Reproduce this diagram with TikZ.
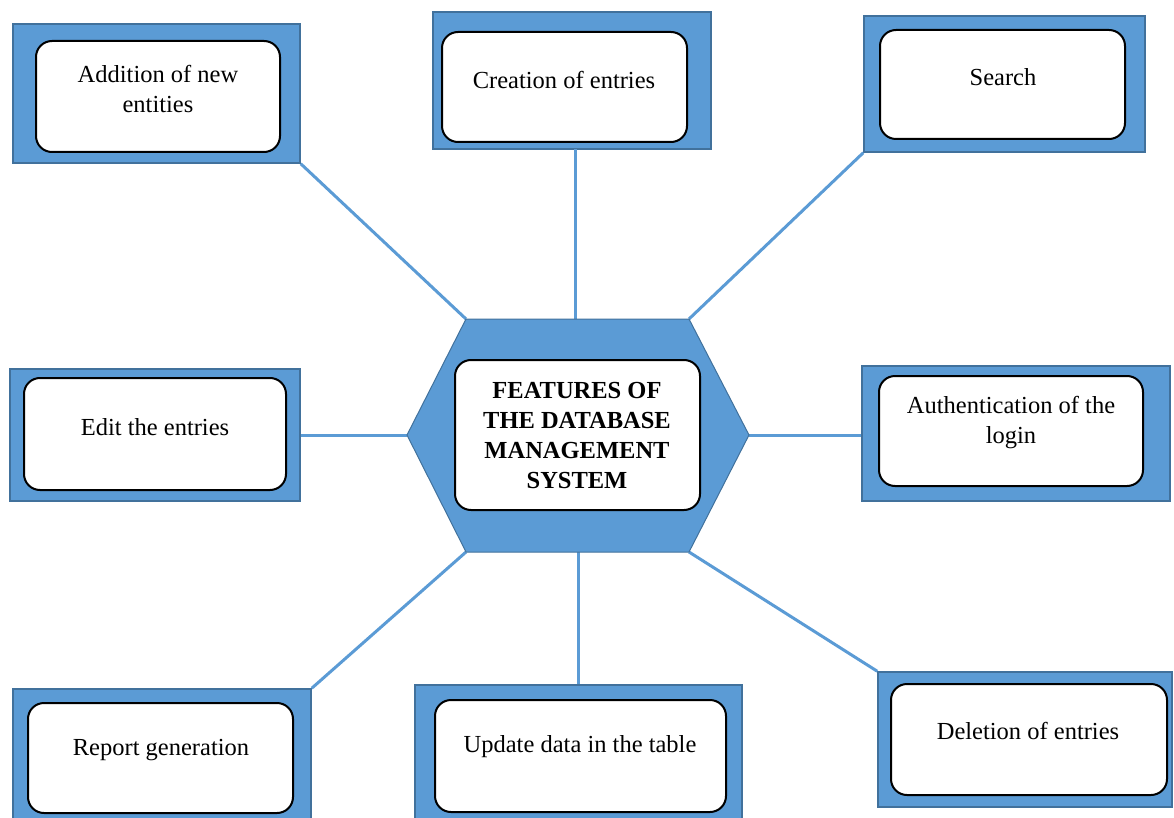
\documentclass[tikz,border=0pt]{standalone}
\usepackage{fontspec}
\setmainfont{Liberation Serif}
\definecolor{panelblue}{HTML}{5B9BD5}
\definecolor{paneledge}{HTML}{41719C}
\begin{document}
\begin{tikzpicture}[x=1pt,y=-1pt,
  outerbox/.style={draw=paneledge,line width=1.5pt,fill=panelblue,inner sep=0pt},
  innerbox/.style={draw=black,line width=2pt,fill=white,rounded corners=16pt,inner sep=0pt},
  caption/.style={align=center,font=\fontsize{24.5}{30}\selectfont,inner sep=0pt},
  spoke/.style={draw=panelblue,line width=3pt}]
\useasboundingbox (0,0) rectangle (1174,818);

% hexagon corners
\coordinate (hL)  at (407,435);
\coordinate (hTL) at (466,319);
\coordinate (hTR) at (689,319);
\coordinate (hR)  at (749,435);
\coordinate (hBR) at (689,552);
\coordinate (hBL) at (466,552);

% outer panels
\node[outerbox,minimum width=287pt,minimum height=139pt] (o1) at (156.5,93.5) {};
\node[outerbox,minimum width=278pt,minimum height=137pt] (o2) at (572,80.5) {};
\node[outerbox,minimum width=281pt,minimum height=136pt] (o3) at (1004.5,84) {};
\node[outerbox,minimum width=290pt,minimum height=132pt] (o4) at (155,435) {};
\node[outerbox,minimum width=308pt,minimum height=135pt] (o5) at (1016,433.5) {};
\node[outerbox,minimum width=298pt,minimum height=134pt] (o6) at (162,756) {};
\node[outerbox,minimum width=327pt,minimum height=138pt] (o7) at (578.5,754) {};
\node[outerbox,minimum width=294pt,minimum height=135pt] (o8) at (1025,739.5) {};

% spokes from the panels to the hexagon
\draw[spoke] (o1.south east) -- (hTL);
\draw[spoke] (575,149) coordinate (c2) -- (c2 |- hTL);
\draw[spoke] (o3.south west) -- (hTR);
\draw[spoke] (o4.east) -- (hL);
\draw[spoke] (hR) -- (o5.west |- hR);
\draw[spoke] (o6.north east) -- (hBL);
\draw[spoke] (578,552) coordinate (c7) -- (c7 |- o7.north);
\draw[spoke] (hBR) -- (o8.north west);

% central hexagon
\filldraw[fill=panelblue,draw=paneledge,line width=1pt]
  (hL) -- (hTL) -- (hTR) -- (hR) -- (hBR) -- (hBL) -- cycle;

% inner white boxes
\node[innerbox,minimum width=244pt,minimum height=111pt] (i1) at (158,96.5) {};
\node[innerbox,minimum width=245pt,minimum height=110pt] (i2) at (564.5,87) {};
\node[innerbox,minimum width=245pt,minimum height=109pt] (i3) at (1002.5,84.5) {};
\node[innerbox,minimum width=262pt,minimum height=112pt] (i4) at (155,434) {};
\node[innerbox,minimum width=264pt,minimum height=110pt] (i5) at (1011,431) {};
\node[innerbox,minimum width=265pt,minimum height=110pt] (i6) at (160.5,758) {};
\node[innerbox,minimum width=291pt,minimum height=112pt] (i7) at (580.5,756) {};
\node[innerbox,minimum width=276pt,minimum height=111pt] (i8) at (1029,739.5) {};
\node[innerbox,minimum width=245pt,minimum height=150pt] (ic) at (577.5,435) {};

% captions
\node[caption] (t1) at (158,89) {Addition of new\\entities};
\node[caption] (t2) at (564,80) {Creation of entries};
\node[caption] (t3) at (1003,77) {Search};
\node[caption] (t4) at (155,427) {Edit the entries};
\node[caption] (t5) at (1011,423) {Authentication of the\\login};
\node[caption] (t6) at (161,750) {Report generation};
\node[caption] (t7) at (580,747) {Update data in the table};
\node[caption] (t8) at (1028,731) {Deletion of entries};
\node[caption,font=\fontsize{24.5}{30}\selectfont\bfseries] (tc) at (577,436)
  {FEATURES OF\\THE DATABASE\\MANAGEMENT\\SYSTEM};
\end{tikzpicture}
\end{document}
